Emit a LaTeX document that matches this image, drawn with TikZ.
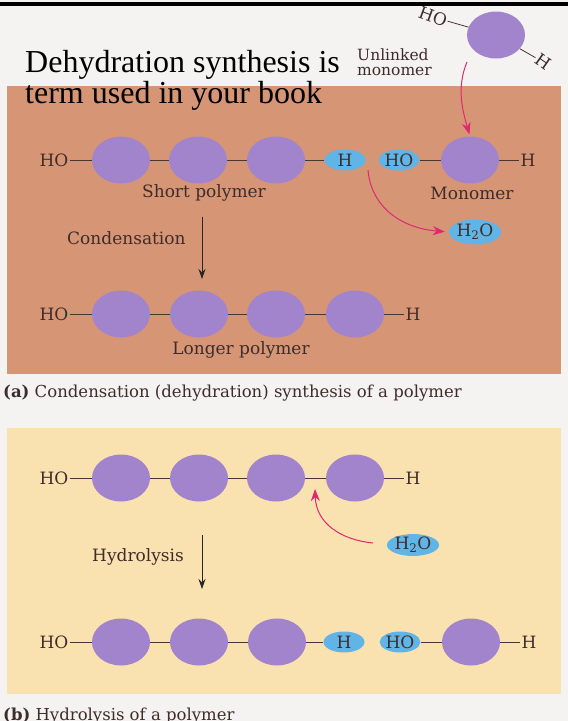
\documentclass[tikz,border=0pt]{standalone}
\usepackage{fontspec}
\setmainfont{DejaVu Serif}
\newfontfamily\titlefont{Liberation Serif}
\usetikzlibrary{shapes.geometric,arrows.meta}
\definecolor{bgpage}{HTML}{F4F3F1}
\definecolor{panA}{RGB}{214,150,118}
\definecolor{panB}{RGB}{250,225,176}
\definecolor{purp}{RGB}{162,132,204}
\definecolor{blu}{RGB}{96,180,230}
\definecolor{pinkc}{RGB}{224,40,112}
\definecolor{ink}{RGB}{62,44,42}
\definecolor{bondc}{RGB}{70,55,52}
\newcommand\figlbl{\fontsize{17}{19}\selectfont}
\newcommand\figcap{\fontsize{16.5}{19}\selectfont}
\begin{document}
\begin{tikzpicture}[x=1pt,y=-1pt,
  mono/.style={ellipse,fill=purp,minimum width=58pt,minimum height=47pt,inner sep=0pt},
  blob/.style={ellipse,fill=blu,minimum width=41pt,minimum height=21pt,inner sep=0pt,font=\figlbl,text=ink},
  lbl/.style={font=\figlbl,text=ink,inner sep=1pt},
  bond/.style={draw=bondc,line width=0.8pt},
  rxn/.style={draw=black!85,line width=0.8pt,-{Stealth[length=10pt,width=7pt]}},
  pk/.style={draw=pinkc,line width=1pt,-{Stealth[length=12pt,width=9pt]}}
]
\fill[bgpage] (0,0) rectangle (568,721);
\useasboundingbox (0,0) rectangle (568,721);
\fill[black] (0,2) rectangle (568,5.5);
% panels
\fill[panA] (7,86) rectangle (561,374);
\fill[panB] (7,428) rectangle (561,694);

% title
\node[font=\titlefont\fontsize{32}{34}\selectfont,anchor=base west,inner sep=0pt] (t1) at (25,72) {Dehydration synthesis is};
\node[font=\titlefont\fontsize{32}{34}\selectfont,anchor=base west,inner sep=0pt] (t2) at (25,103) {term used in your book};

% unlinked monomer
\node[mono] (um) at (496,35) {};
\node[lbl,rotate=-20,inner sep=0.5pt] (uho) at (433,17) {HO};
\node[lbl,rotate=-35] (uh) at (543,62) {H};
\draw[bond] (uho) -- (um) (um) -- (uh);
\node[font=\fontsize{15.5}{15}\selectfont,text=ink,align=left,anchor=west,inner sep=0pt] (ul) at (357,62) {Unlinked\\monomer};

% row a1
\node[lbl] (aho) at (54,160) {HO};
\node[mono] (a1) at (121,160) {};
\node[mono] (a2) at (198,160) {};
\node[mono] (a3) at (276,160) {};
\node[blob] (ah) at (345,160) {H};
\node[blob,minimum width=39pt] (ahob) at (399,160) {HO};
\node[mono] (am) at (470,160) {};
\node[lbl] (ahe) at (528,160) {H};
\draw[bond] (aho) -- (a1) (a1) -- (a2) (a2) -- (a3) (a3) -- (ah) (ahob) -- (am) (am) -- (ahe);
\node[lbl] (shortl) at (204,193) {Short polymer};
\node[lbl] (monol) at (472,193) {Monomer};
\node[blob,minimum width=50pt,minimum height=25pt] (h2oa) at (475,232) {H\textsubscript{2}O};

% arrows panel a
\coordinate (ustart) at (467,62);
\draw[pk,shorten >=2pt] (ustart) .. controls (456,88) and (463,112) .. (am.north);
\coordinate (pastart) at (368,170);
\draw[pk,shorten >=4pt] (pastart) .. controls (371,206) and (400,228) .. (h2oa.west);
\node[lbl,anchor=west] (condl) at (66,238) {Condensation};
\coordinate (cs) at (202,217);
\coordinate (ce) at (202,279);
\draw[rxn] (cs) -- (ce);

% row a2
\node[lbl] (bho) at (54,314) {HO};
\node[mono] (b1) at (121,314) {};
\node[mono] (b2) at (199,314) {};
\node[mono] (b3) at (276,314) {};
\node[mono] (b4) at (355,314) {};
\node[lbl] (bhe) at (413,314) {H};
\draw[bond] (bho) -- (b1) (b1) -- (b2) (b2) -- (b3) (b3) -- (b4) (b4) -- (bhe);
\node[lbl] (longl) at (241,350) {Longer polymer};

\node[font=\figcap,text=ink,anchor=base west,inner sep=0pt] (capa) at (3,397) {\textbf{(a)} Condensation (dehydration) synthesis of a polymer};

% row b1
\node[lbl] (cho) at (54,478) {HO};
\node[mono] (c1) at (121,478) {};
\node[mono] (c2) at (199,478) {};
\node[mono] (c3) at (276,478) {};
\node[mono] (c4) at (355,478) {};
\node[lbl] (che) at (413,478) {H};
\draw[bond] (cho) -- (c1) (c1) -- (c2) (c2) -- (c3) (c3) -- (c4) (c4) -- (che);
\node[blob,minimum width=44pt,minimum height=21pt] (h2ob) at (413,545) {H\textsubscript{2}O};
\coordinate (pbstart) at (373,543);
\coordinate (bond34) at (315,489);
\draw[pk] (pbstart) .. controls (342,540) and (316,524) .. (bond34);
\node[lbl,anchor=west] (hydl) at (91,557) {Hydrolysis};
\coordinate (hs) at (202,535);
\coordinate (he) at (202,589);
\draw[rxn] (hs) -- (he);

% row b2
\node[lbl] (dho) at (54,642) {HO};
\node[mono] (d1) at (121,642) {};
\node[mono] (d2) at (199,642) {};
\node[mono] (d3) at (277,642) {};
\node[blob] (dh) at (344,642) {H};
\node[blob,minimum width=39pt] (dhob) at (400,642) {HO};
\node[mono] (dm) at (471,642) {};
\node[lbl] (dhe) at (529,642) {H};
\draw[bond] (dho) -- (d1) (d1) -- (d2) (d2) -- (d3) (d3) -- (dh) (dhob) -- (dm) (dm) -- (dhe);

\node[font=\figcap,text=ink,anchor=base west,inner sep=0pt] (capb) at (3,720) {\textbf{(b)} Hydrolysis of a polymer};
\end{tikzpicture}
\end{document}
